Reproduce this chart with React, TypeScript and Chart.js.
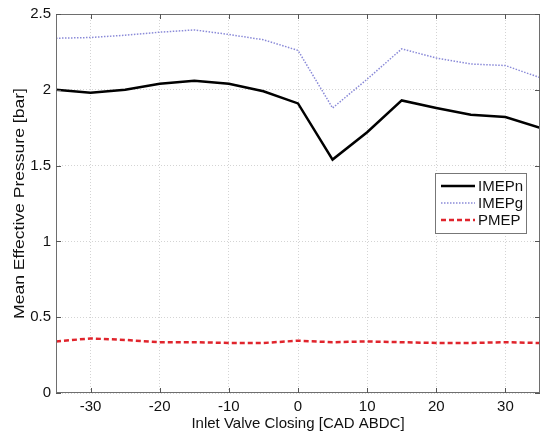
import React, { useEffect, useRef } from "react";
import { Chart, registerables } from "chart.js";

Chart.register(...registerables);

const ivc = [-35, -30, -25, -20, -15, -10, -5, 0, 5, 10, 15, 20, 25, 30, 35];
const imepN = [2.0, 1.98, 2.0, 2.04, 2.06, 2.04, 1.99, 1.91, 1.54, 1.72, 1.93, 1.88, 1.835, 1.82, 1.75];
const imepG = [2.34, 2.345, 2.36, 2.38, 2.395, 2.365, 2.33, 2.26, 1.88, 2.07, 2.27, 2.21, 2.17, 2.16, 2.08];
const pmep = [0.34, 0.36, 0.35, 0.335, 0.335, 0.33, 0.33, 0.345, 0.335, 0.34, 0.335, 0.33, 0.33, 0.335, 0.33];
const xTicks = [-30, -20, -10, 0, 10, 20, 30];
const yTicks = [0, 0.5, 1, 1.5, 2, 2.5];
const yTitle = "Mean Effective Pressure [bar]";

const FONT = "'Liberation Sans', Arial, sans-serif";

const boxPlugin = {
  id: "boxAndLegend",
  afterDraw(chart: any) {
    const { ctx, chartArea: a, scales } = chart;
    ctx.save();
    // axes box
    ctx.strokeStyle = "#6e6e6e";
    ctx.lineWidth = 1;
    ctx.setLineDash([]);
    ctx.strokeRect(a.left + 0.5, a.top + 0.5, a.right - a.left - 1, a.bottom - a.top - 1);
    // inward ticks
    ctx.strokeStyle = "#555";
    xTicks.forEach((v) => {
      const x = Math.round(scales.x.getPixelForValue(v)) + 0.5;
      ctx.beginPath();
      ctx.moveTo(x, a.bottom);
      ctx.lineTo(x, a.bottom - 5);
      ctx.moveTo(x, a.top);
      ctx.lineTo(x, a.top + 5);
      ctx.stroke();
    });
    yTicks.forEach((v) => {
      const y = Math.round(scales.y.getPixelForValue(v)) + 0.5;
      ctx.beginPath();
      ctx.moveTo(a.left, y);
      ctx.lineTo(a.left + 5, y);
      ctx.moveTo(a.right, y);
      ctx.lineTo(a.right - 5, y);
      ctx.stroke();
    });
    // y axis title (reference image is stretched vertically)
    ctx.save();
    ctx.translate(20, (a.top + a.bottom) / 2);
    ctx.rotate(-Math.PI / 2);
    ctx.scale(1.17, 1);
    ctx.font = `15px ${FONT}`;
    ctx.fillStyle = "#111";
    ctx.textAlign = "center";
    ctx.textBaseline = "middle";
    ctx.fillText(yTitle, 0, 0);
    ctx.restore();
    // legend
    const lx = 435, ly = 173, lw = 91, lh = 60;
    ctx.fillStyle = "#fff";
    ctx.fillRect(lx, ly, lw, lh);
    ctx.strokeStyle = "#777";
    ctx.lineWidth = 1;
    ctx.strokeRect(lx + 0.5, ly + 0.5, lw, lh);
    ctx.font = `15px ${FONT}`;
    ctx.textBaseline = "middle";
    ctx.textAlign = "left";
    chart.data.datasets.forEach((ds: any, i: number) => {
      const y = ly + 13 + i * 17;
      ctx.strokeStyle = ds.borderColor;
      ctx.lineWidth = ds.borderWidth;
      ctx.setLineDash(ds.borderDash || []);
      ctx.beginPath();
      ctx.moveTo(lx + 6, y);
      ctx.lineTo(lx + 40, y);
      ctx.stroke();
      ctx.setLineDash([]);
      ctx.fillStyle = "#111";
      ctx.fillText(ds.label, lx + 43, y + 1);
    });
    ctx.restore();
  },
};

export default function App() {
  const ref = useRef<HTMLCanvasElement>(null);
  useEffect(() => {
    const mk = (arr: number[]) => ivc.map((x, i) => ({ x, y: arr[i] }));
    const chart = new Chart(ref.current!, {
      type: "line",
      data: {
        datasets: [
          { label: "IMEPn", data: mk(imepN), borderColor: "#000", borderWidth: 2.5, pointRadius: 0, tension: 0 },
          { label: "IMEPg", data: mk(imepG), borderColor: "#8a8ad8", borderWidth: 1.5, borderDash: [1.5, 1.5], pointRadius: 0, tension: 0 },
          { label: "PMEP", data: mk(pmep), borderColor: "#e0242c", borderWidth: 2.5, borderDash: [5, 3], pointRadius: 0, tension: 0 },
        ],
      },
      options: {
        animation: false,
        responsive: false,
        devicePixelRatio: 1,
        layout: { padding: { top: 14, right: 5, left: 0, bottom: 0 } },
        plugins: { legend: { display: false }, tooltip: { enabled: false } },
        scales: {
          x: {
            type: "linear",
            min: -35,
            max: 35,
            afterBuildTicks: (s: any) => { s.ticks = xTicks.map((v) => ({ value: v })); },
            afterFit: (s: any) => { s.height = 40; },
            grid: { color: "#d4d4d4", drawTicks: false },
            border: { display: false, dash: [1, 2] },
            ticks: { color: "#111", font: { family: FONT, size: 15 }, padding: 5, callback: (v: any) => String(v) },
            title: { display: true, text: "Inlet Valve Closing [CAD ABDC]", color: "#111", font: { family: FONT, size: 15 }, padding: 0 },
          },
          y: {
            type: "linear",
            min: 0,
            max: 2.5,
            afterBuildTicks: (s: any) => { s.ticks = yTicks.map((v) => ({ value: v })); },
            afterFit: (s: any) => { s.width = 56; },
            grid: { color: "#d4d4d4", drawTicks: false },
            border: { display: false, dash: [1, 2] },
            ticks: { color: "#111", font: { family: FONT, size: 15 }, padding: 5, callback: (v: any) => String(v) },
            title: { display: false },
          },
        },
      },
      plugins: [boxPlugin],
    });
    return () => chart.destroy();
  }, []);
  return (
    <div style={{ position: "absolute", left: 0, top: 0, width: 545, height: 433, background: "#fff" }}>
      <canvas ref={ref} width={545} height={433} style={{ width: 545, height: 433 }} />
    </div>
  );
}
